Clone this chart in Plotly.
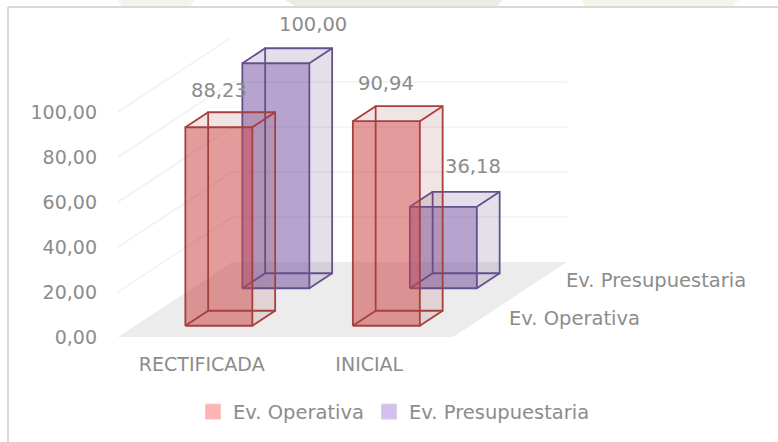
import plotly.graph_objects as go

# ---- data ----
categories = ["RECTIFICADA", "INICIAL"]
series_names = ["Ev. Operativa", "Ev. Presupuestaria"]
ev_operativa = [88.23, 90.94]
ev_presupuestaria = [100.00, 36.18]
y_ticks = [0, 20, 40, 60, 80, 100]
y_tick_labels = ["0,00", "20,00", "40,00", "60,00", "80,00", "100,00"]
value_labels_operativa = ["88,23", "90,94"]
value_labels_presupuestaria = ["100,00", "36,18"]

# ---- style / oblique-projection settings ----
W, H = 778, 442
M_L, M_R, M_T, M_B = 118, 210, 38, 105
PX_PER_CAT = 167.5
PX_PER_VAL = 2.25
DEPTH_DX = 57 / PX_PER_CAT      # category units per depth band
DEPTH_DY = 37.5 / PX_PER_VAL    # value units per depth band
XMAX = (W - M_L - M_R) / PX_PER_CAT
YMAX = (H - M_T - M_B) / PX_PER_VAL
GAP = 0.3
TXT = "#8c8c8c"
FONT = "DejaVu Sans"
FS = 19
FS2 = 19.5

STYLES = {
    0: dict(line="#a5403f", side="rgba(150,60,60,0.07)", front="rgba(205,70,70,0.50)", swatch="#ffb3b3", swline="#f3c9c9"),
    1: dict(line="#65508f", side="rgba(100,75,130,0.09)", front="rgba(110,70,160,0.45)", swatch="#d5bff0", swline="#d9cfe6"),
}
# pixel offset of each value label relative to the top-front centre of its bar
LABEL_SHIFT = {0: [(0, 37), (0, 38)], 1: [(37, 39), (30, 40)]}


def proj(c, v, d):
    return c + DEPTH_DX * d, v + DEPTH_DY * d


def poly(points):
    pts = [proj(*p) for p in points]
    pts.append(pts[0])
    return [p[0] for p in pts], [p[1] for p in pts]


fig = go.Figure()

# legend entries
for i, name in enumerate(series_names):
    fig.add_trace(go.Scatter(
        x=[None], y=[None], mode="markers", name=name, showlegend=True,
        marker=dict(symbol="square", size=15, color=STYLES[i]["swatch"],
                    line=dict(color=STYLES[i]["swline"], width=1)),
    ))


def add_poly(points, fill=None, line=None, width=0):
    x, y = poly(points)
    fig.add_trace(go.Scatter(
        x=x, y=y, mode="lines", fill="toself" if fill else "none",
        fillcolor=fill, line=dict(color=line or "rgba(0,0,0,0)", width=width),
        showlegend=False, hoverinfo="skip",
    ))


# floor
add_poly([(0, 0, 0), (2, 0, 0), (2, 0, 2), (0, 0, 2)], fill="#ececec")

# gridlines on left and back walls
for t in y_ticks[1:]:
    x, y = zip(proj(0, t, 0), proj(0, t, 2), proj(2, t, 2))
    fig.add_trace(go.Scatter(x=list(x), y=list(y), mode="lines",
                             line=dict(color="#f2f2f2", width=1.5),
                             showlegend=False, hoverinfo="skip"))


def add_bar(cat, depth, val, s):
    c0, c1 = cat + GAP, cat + 1 - GAP
    d0, d1 = depth + GAP, depth + 1 - GAP
    st = STYLES[s]
    # faces
    add_poly([(c0, 0, d1), (c1, 0, d1), (c1, val, d1), (c0, val, d1)], fill=st["side"])
    add_poly([(c0, 0, d0), (c0, 0, d1), (c0, val, d1), (c0, val, d0)], fill=st["side"])
    add_poly([(c0, 0, d0), (c1, 0, d0), (c1, 0, d1), (c0, 0, d1)], fill=st["side"])
    add_poly([(c1, 0, d0), (c1, 0, d1), (c1, val, d1), (c1, val, d0)], fill=st["side"])
    add_poly([(c0, val, d0), (c1, val, d0), (c1, val, d1), (c0, val, d1)], fill=st["side"])
    add_poly([(c0, 0, d0), (c1, 0, d0), (c1, val, d0), (c0, val, d0)], fill=st["front"])
    # edges
    kw = dict(line=st["line"], width=1.8)
    add_poly([(c0, 0, d1), (c1, 0, d1), (c1, val, d1), (c0, val, d1)], **kw)
    add_poly([(c0, 0, d0), (c1, 0, d0), (c1, val, d0), (c0, val, d0)], **kw)
    for c in (c0, c1):
        for v in (0, val):
            ex, ey = zip(proj(c, v, d0), proj(c, v, d1))
            fig.add_trace(go.Scatter(x=list(ex), y=list(ey), mode="lines",
                                     line=dict(color=st["line"], width=1.8),
                                     showlegend=False, hoverinfo="skip"))


for i, v in enumerate(ev_presupuestaria):
    add_bar(i, 1, v, 1)
for i, v in enumerate(ev_operativa):
    add_bar(i, 0, v, 0)

annotations = []
for s, (vals, labs) in enumerate([(ev_operativa, value_labels_operativa),
                                  (ev_presupuestaria, value_labels_presupuestaria)]):
    for i, (v, lab) in enumerate(zip(vals, labs)):
        px, py = proj(i + 0.5, v, s + GAP)
        dx, dy = LABEL_SHIFT[s][i]
        annotations.append(dict(x=px, y=py, xref="x", yref="y", text=lab, showarrow=False,
                                xanchor="center", yanchor="middle", xshift=dx, yshift=dy,
                                font=dict(family=FONT, size=FS2, color=TXT)))
# depth-axis labels
for s, name in enumerate(series_names):
    px, py = proj(2, 0, s + 0.5)
    annotations.append(dict(x=px, y=py, xref="x", yref="y", text=name, showarrow=False,
                            xanchor="left", yanchor="middle", xshift=25,
                            font=dict(family=FONT, size=FS2, color=TXT)))


def px_x(p):
    return (p - M_L) / (W - M_L - M_R)


def px_y(p):
    return (H - M_B - p) / (H - M_T - M_B)


# chart frame and the faint page decoration above it
G = "#d9d9d9"
shapes = [
    dict(type="line", xref="paper", yref="paper", layer="below",
         x0=px_x(8), x1=px_x(8), y0=px_y(442), y1=px_y(7), line=dict(color=G, width=2)),
    dict(type="line", xref="paper", yref="paper", layer="below",
         x0=px_x(8), x1=px_x(778), y0=px_y(7), y1=px_y(7), line=dict(color=G, width=2)),
]
for (a, b, c, d), col in [((118, 195, 190, 122), "#f1f4eb"),
                          ((285, 503, 497, 295), "#e8eee3"),
                          ((582, 738, 733, 585), "#f2f5e8")]:
    shapes.append(dict(type="path", xref="paper", yref="paper", layer="below",
                       path=f"M{px_x(a)},{px_y(0)}L{px_x(b)},{px_y(0)}L{px_x(c)},{px_y(6)}L{px_x(d)},{px_y(6)}Z",
                       fillcolor=col, line=dict(width=0)))

fig.update_layout(
    width=W, height=H,
    margin=dict(l=M_L, r=M_R, t=M_T, b=M_B, autoexpand=False),
    paper_bgcolor="white", plot_bgcolor="rgba(0,0,0,0)",
    font=dict(family=FONT, size=FS, color=TXT),
    xaxis=dict(range=[0, XMAX], showgrid=False, zeroline=False, showline=False,
               tickmode="array", tickvals=[0.5, 1.5], ticktext=categories,
               ticks="", ticklabelstandoff=14, tickfont=dict(size=FS, color=TXT, family=FONT)),
    yaxis=dict(range=[0, YMAX], showgrid=False, zeroline=False, showline=False,
               tickmode="array", tickvals=y_ticks, ticktext=y_tick_labels,
               ticks="", ticklabelstandoff=20, tickfont=dict(size=FS, color=TXT, family=FONT)),
    legend=dict(orientation="h", x=193 / W, xanchor="left", xref="container",
                y=0.068, yanchor="middle", yref="container", traceorder="normal",
                font=dict(family=FONT, size=FS2, color=TXT), bgcolor="rgba(0,0,0,0)"),
    annotations=annotations,
    shapes=shapes,
    showlegend=True,
)

fig.write_html("out.html", config={"displayModeBar": False},
               post_script="document.body.style.margin='0';document.body.style.overflow='hidden';")
